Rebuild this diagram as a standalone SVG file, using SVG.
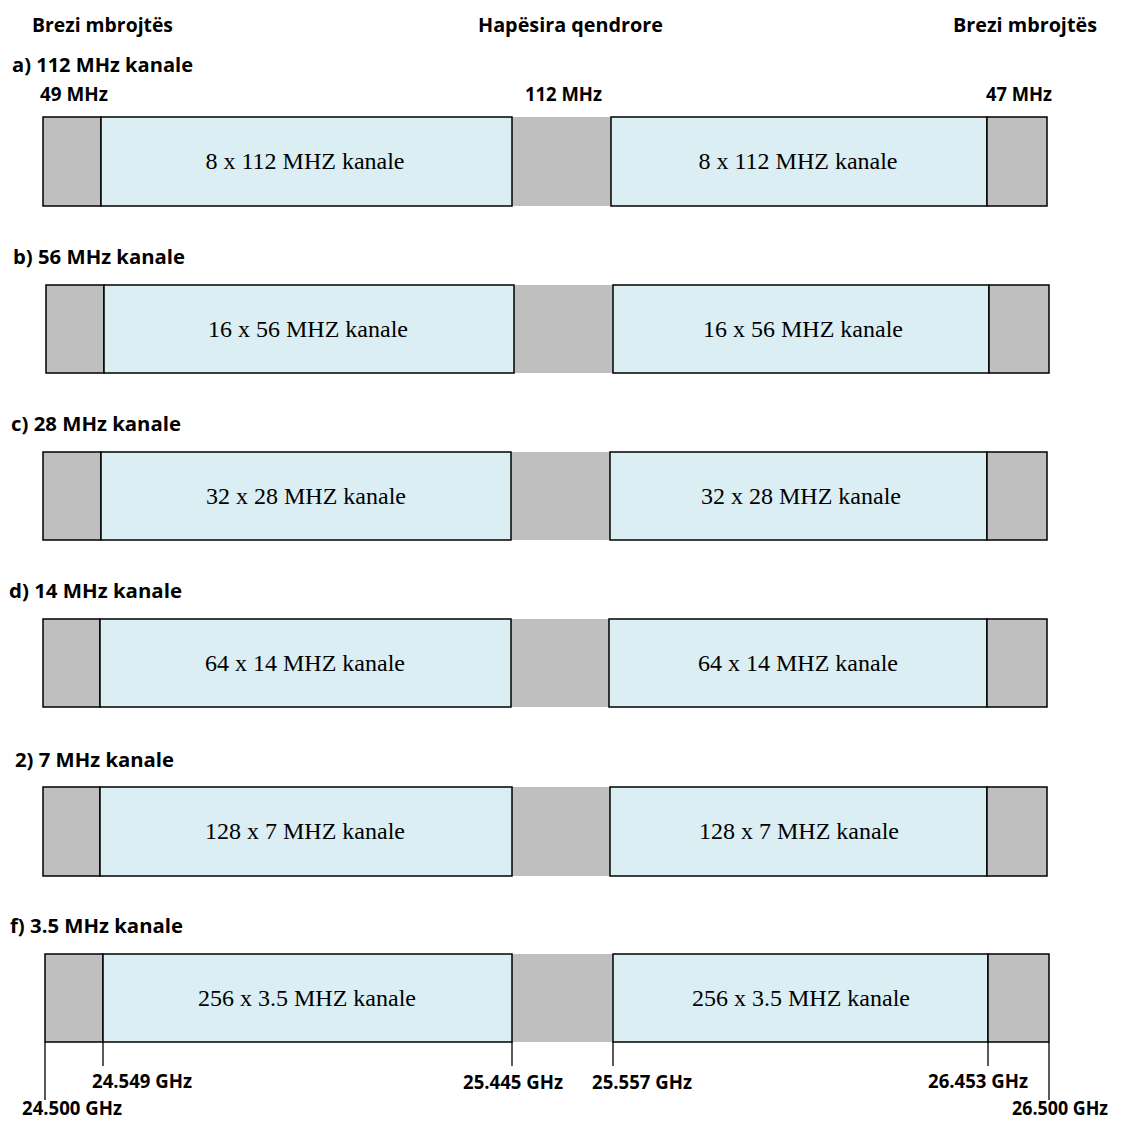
<svg xmlns="http://www.w3.org/2000/svg" width="1122" height="1123" viewBox="0 0 1122 1123">
<style>
.g{fill:#bfbfbf;stroke:#000;stroke-width:1.5}
.m{fill:#bfbfbf;stroke:none}
.b{fill:#daeef3;stroke:#000;stroke-width:1.5}
.h{font-family:"Open Sans","Liberation Sans",sans-serif;font-weight:bold;font-size:20px;fill:#000}
.t{font-family:"Liberation Serif","Times New Roman",serif;font-size:24px;fill:#000;text-anchor:middle}
.k{stroke:#000;stroke-width:1.3;fill:none}
</style>
<rect width="1122" height="1123" fill="#fff"/>
<g id="headers">
<text class="h" x="32" y="32" textLength="141" lengthAdjust="spacingAndGlyphs">Brezi mbrojtës</text>
<text class="h" x="478" y="32" textLength="185" lengthAdjust="spacingAndGlyphs">Hapësira qendrore</text>
<text class="h" x="953" y="32" textLength="144" lengthAdjust="spacingAndGlyphs">Brezi mbrojtës</text>
<text class="h" x="40" y="101" textLength="68" lengthAdjust="spacingAndGlyphs">49 MHz</text>
<text class="h" x="525" y="101" textLength="77" lengthAdjust="spacingAndGlyphs">112 MHz</text>
<text class="h" x="986" y="101" textLength="66" lengthAdjust="spacingAndGlyphs">47 MHz</text>
</g>
<g id="row-a">
<text class="h" x="12" y="72" textLength="181" lengthAdjust="spacingAndGlyphs">a) 112 MHz kanale</text>
<rect class="m" x="512" y="117" width="99" height="89"/>
<rect class="g" x="43" y="117" width="58" height="89"/>
<rect class="b" x="101" y="117" width="411" height="89"/>
<rect class="b" x="611" y="117" width="376" height="89"/>
<rect class="g" x="987" y="117" width="60" height="89"/>
<text class="t" x="305" y="169">8 x 112 MHZ kanale</text>
<text class="t" x="798" y="169">8 x 112 MHZ kanale</text>
</g>
<g id="row-b">
<text class="h" x="13" y="264" textLength="172" lengthAdjust="spacingAndGlyphs">b) 56 MHz kanale</text>
<rect class="m" x="514" y="285" width="99" height="88"/>
<rect class="g" x="46" y="285" width="58" height="88"/>
<rect class="b" x="104" y="285" width="410" height="88"/>
<rect class="b" x="613" y="285" width="376" height="88"/>
<rect class="g" x="989" y="285" width="60" height="88"/>
<text class="t" x="308" y="337">16 x 56 MHZ kanale</text>
<text class="t" x="803" y="337">16 x 56 MHZ kanale</text>
</g>
<g id="row-c">
<text class="h" x="11" y="431" textLength="170" lengthAdjust="spacingAndGlyphs">c) 28 MHz kanale</text>
<rect class="m" x="511" y="452" width="99" height="88"/>
<rect class="g" x="43" y="452" width="58" height="88"/>
<rect class="b" x="101" y="452" width="410" height="88"/>
<rect class="b" x="610" y="452" width="377" height="88"/>
<rect class="g" x="987" y="452" width="60" height="88"/>
<text class="t" x="306" y="504">32 x 28 MHZ kanale</text>
<text class="t" x="801" y="504">32 x 28 MHZ kanale</text>
</g>
<g id="row-d">
<text class="h" x="9" y="598" textLength="173" lengthAdjust="spacingAndGlyphs">d) 14 MHz kanale</text>
<rect class="m" x="511" y="619" width="98" height="88"/>
<rect class="g" x="43" y="619" width="57" height="88"/>
<rect class="b" x="100" y="619" width="411" height="88"/>
<rect class="b" x="609" y="619" width="378" height="88"/>
<rect class="g" x="987" y="619" width="60" height="88"/>
<text class="t" x="305" y="671">64 x 14 MHZ kanale</text>
<text class="t" x="798" y="671">64 x 14 MHZ kanale</text>
</g>
<g id="row-e">
<text class="h" x="15" y="767" textLength="159" lengthAdjust="spacingAndGlyphs">2) 7 MHz kanale</text>
<rect class="m" x="512" y="787" width="98" height="89"/>
<rect class="g" x="43" y="787" width="57" height="89"/>
<rect class="b" x="100" y="787" width="412" height="89"/>
<rect class="b" x="610" y="787" width="377" height="89"/>
<rect class="g" x="987" y="787" width="60" height="89"/>
<text class="t" x="305" y="839">128 x 7 MHZ kanale</text>
<text class="t" x="799" y="839">128 x 7 MHZ kanale</text>
</g>
<g id="row-f">
<text class="h" x="10" y="933" textLength="173" lengthAdjust="spacingAndGlyphs">f) 3.5 MHz kanale</text>
<rect class="m" x="512" y="954" width="101" height="88"/>
<rect class="g" x="45" y="954" width="58" height="88"/>
<rect class="b" x="103" y="954" width="409" height="88"/>
<rect class="b" x="613" y="954" width="375" height="88"/>
<rect class="g" x="988" y="954" width="61" height="88"/>
<text class="t" x="307" y="1006">256 x 3.5 MHZ kanale</text>
<text class="t" x="801" y="1006">256 x 3.5 MHZ kanale</text>
</g>
<g id="connectors">
<line class="k" x1="45" y1="1042" x2="45" y2="1100"/>
<line class="k" x1="103" y1="1042" x2="103" y2="1066"/>
<line class="k" x1="512" y1="1042" x2="512" y2="1066"/>
<line class="k" x1="613" y1="1042" x2="613" y2="1066"/>
<line class="k" x1="988" y1="1042" x2="988" y2="1066"/>
<line class="k" x1="1049" y1="1042" x2="1049" y2="1100"/>
</g>
<g id="freq-labels">
<text class="h" x="92" y="1088" textLength="100" lengthAdjust="spacingAndGlyphs">24.549 GHz</text>
<text class="h" x="463" y="1089" textLength="100" lengthAdjust="spacingAndGlyphs">25.445 GHz</text>
<text class="h" x="592" y="1089" textLength="100" lengthAdjust="spacingAndGlyphs">25.557 GHz</text>
<text class="h" x="928" y="1088" textLength="100" lengthAdjust="spacingAndGlyphs">26.453 GHz</text>
<text class="h" x="22" y="1115" font-size="19" textLength="100" lengthAdjust="spacingAndGlyphs">24.500 GHz</text>
<text class="h" x="1012" y="1115" font-size="19" textLength="96" lengthAdjust="spacingAndGlyphs">26.500 GHz</text>
</g>
</svg>
